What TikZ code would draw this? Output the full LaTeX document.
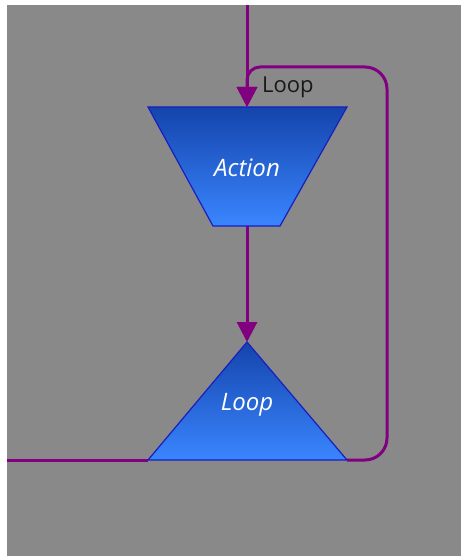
\documentclass[tikz,border=0pt]{standalone}
\usepackage{fontspec}
\setmainfont{Open Sans}
\usetikzlibrary{arrows.meta}
\definecolor{canvas}{RGB}{137,137,137}
\definecolor{flow}{RGB}{128,0,128}
\definecolor{shapetop}{RGB}{20,68,172}
\definecolor{shapebot}{RGB}{58,134,255}
\definecolor{shapeedge}{RGB}{25,30,190}
\definecolor{labelink}{RGB}{25,25,25}
\begin{document}
\begin{tikzpicture}[x=1pt,y=-1pt,
  flowline/.style={draw=flow,line width=3pt},
  flowarrow/.style={flowline,-{Triangle[width=20pt,length=20pt]}},
  block/.style={draw=shapeedge,line width=1.2pt,line join=miter,top color=shapetop,bottom color=shapebot},
  blocktext/.style={anchor=base,text=white,inner sep=0pt,font=\fontsize{24}{28}\selectfont\itshape},
  edgelabel/.style={anchor=base west,text=labelink,inner sep=0pt,font=\fontsize{22}{26}\selectfont}]
\useasboundingbox (0,0) rectangle (462,556);
\fill[canvas] (7,5) rectangle (461,556);

% anchor points of the two blocks
\coordinate (src) at (247,5);
\coordinate (act-tl) at (148,107);
\coordinate (act-tr) at (347,107);
\coordinate (act-br) at (280,226);
\coordinate (act-bl) at (213,226);
\coordinate (act-top) at (247,107);
\coordinate (act-bot) at (247,226);
\coordinate (lp-apex) at (247,342);
\coordinate (lp-left) at (148,460);
\coordinate (lp-right) at (347,460);
\coordinate (exit) at (7,460);
\coordinate (ret-a) at (387,460);
\coordinate (ret-b) at (387,67);
\coordinate (ret-c) at (247,67);

% connectors
\draw[flowarrow] (src) -- (act-top);
\draw[flowarrow] (act-bot) -- (lp-apex);
\draw[flowline] (exit) -- (lp-left);
\draw[flowarrow,rounded corners=22pt] (lp-right) -- (ret-a) -- (ret-b)
  [rounded corners=13pt] -- (ret-c) -- (act-top);

% blocks
\path[block] (act-tl) -- (act-tr) -- (act-br) -- (act-bl) -- cycle;
\path[block] (lp-apex) -- (lp-right) -- (lp-left) -- cycle;

% texts
\node[blocktext] (act) at (247,176.5) {Action};
\node[blocktext] (lp) at (247,410.5) {Loop};
\node[edgelabel] (looplabel) at (262,92.5) {Loop};
\end{tikzpicture}
\end{document}
